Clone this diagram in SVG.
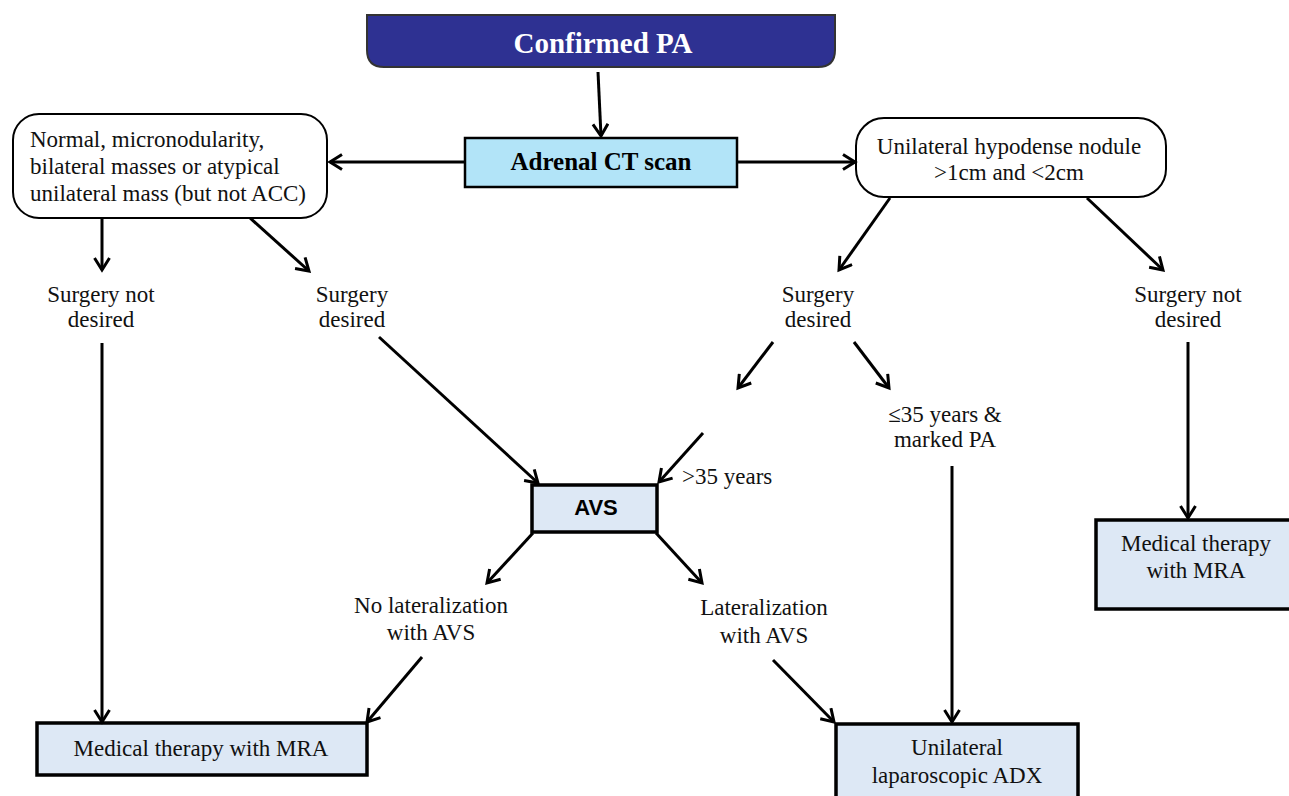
<svg xmlns="http://www.w3.org/2000/svg" width="1289" height="796" viewBox="0 0 1289 796">
<defs>
<marker id="ah" markerUnits="userSpaceOnUse" markerWidth="18" markerHeight="18" viewBox="0 0 18 18" refX="15" refY="9" orient="auto">
<path d="M3,1.5 L15,9 L3,16.5" fill="none" stroke="#000" stroke-width="3" stroke-linejoin="miter"/>
</marker>
<style>
.t{font-family:"Liberation Serif","Times New Roman",serif;font-size:23px;fill:#111;}
.c{text-anchor:middle;}
.box{fill:#dde8f5;stroke:#000;stroke-width:3.5;}
.rb{fill:#fff;stroke:#000;stroke-width:2;}
.ln{stroke:#000;stroke-width:3;fill:none;marker-end:url(#ah);}
</style>
</defs>
<rect width="1289" height="796" fill="#fff"/>

<g id="confirmed">
<path d="M367,15 H835 V50 Q835,67 818,67 H384 Q367,67 367,50 Z" fill="#2e3192" stroke="#333" stroke-width="2"/>
<text x="603" y="53" class="c" style="font-family:'Liberation Serif','Times New Roman',serif;font-size:29px;font-weight:bold;fill:#fff">Confirmed PA</text>
</g>

<g id="ct">
<rect x="465" y="138" width="272" height="49" fill="#b2e4f8" stroke="#000" stroke-width="2.5"/>
<text x="601" y="170" class="c" style="font-family:'Liberation Serif','Times New Roman',serif;font-size:25px;font-weight:bold;fill:#000">Adrenal CT scan</text>
</g>

<g id="leftbox">
<rect x="13" y="114" width="314" height="104" rx="26" class="rb"/>
<text class="t" x="30" y="147">Normal, micronodularity,</text>
<text class="t" x="30" y="174">bilateral masses or atypical</text>
<text class="t" x="30" y="201">unilateral mass (but not ACC)</text>
</g>

<g id="rightbox">
<rect x="856" y="118" width="310" height="79" rx="28" class="rb"/>
<text class="t c" x="1009" y="154">Unilateral hypodense nodule</text>
<text class="t c" x="1009" y="180">&gt;1cm and &lt;2cm</text>
</g>

<g id="l-notdesired">
<text class="t c" x="101" y="302">Surgery not</text>
<text class="t c" x="101" y="327">desired</text>
</g>
<g id="l-desired">
<text class="t c" x="352" y="302">Surgery</text>
<text class="t c" x="352" y="327">desired</text>
</g>
<g id="r-desired">
<text class="t c" x="818" y="302">Surgery</text>
<text class="t c" x="818" y="327">desired</text>
</g>
<g id="r-notdesired">
<text class="t c" x="1188" y="302">Surgery not</text>
<text class="t c" x="1188" y="327">desired</text>
</g>
<g id="young">
<text class="t c" x="945" y="422">≤35 years &amp;</text>
<text class="t c" x="945" y="447">marked PA</text>
</g>
<g id="older">
<text class="t" x="682" y="484">&gt;35 years</text>
</g>

<g id="avs">
<rect x="532" y="485" width="125" height="47" class="box"/>
<text x="596" y="515" class="c" style="font-family:'Liberation Sans',Arial,sans-serif;font-size:22px;font-weight:bold;fill:#000">AVS</text>
</g>

<g id="nolat">
<text class="t c" x="431" y="613">No lateralization</text>
<text class="t c" x="431" y="640">with AVS</text>
</g>
<g id="lat">
<text class="t c" x="764" y="615">Lateralization</text>
<text class="t c" x="764" y="643">with AVS</text>
</g>

<g id="med-left">
<rect x="37" y="723" width="330" height="52" class="box"/>
<text class="t c" x="201" y="756">Medical therapy with MRA</text>
</g>

<g id="med-right">
<rect x="1096" y="520" width="200" height="89" class="box"/>
<text class="t c" x="1196" y="551">Medical therapy</text>
<text class="t c" x="1196" y="578">with MRA</text>
</g>

<g id="adx">
<rect x="836" y="724" width="242" height="80" class="box"/>
<text class="t c" x="957" y="755">Unilateral</text>
<text class="t c" x="957" y="783">laparoscopic ADX</text>
</g>

<g id="connectors">
<line class="ln" x1="598" y1="72" x2="601" y2="136"/>
<line class="ln" x1="465" y1="162" x2="330" y2="162"/>
<line class="ln" x1="737" y1="162" x2="855" y2="162"/>
<line class="ln" x1="102" y1="218" x2="102" y2="270"/>
<line class="ln" x1="250" y1="218" x2="309" y2="271"/>
<line class="ln" x1="890" y1="198" x2="839" y2="270"/>
<line class="ln" x1="1087" y1="198" x2="1163" y2="270"/>
<line class="ln" x1="102" y1="343" x2="102" y2="722"/>
<line class="ln" x1="379" y1="337" x2="538" y2="483"/>
<line class="ln" x1="773" y1="342" x2="738" y2="388"/>
<line class="ln" x1="854" y1="342" x2="889" y2="388"/>
<line class="ln" x1="703" y1="433" x2="659" y2="482"/>
<line class="ln" x1="952" y1="466" x2="952" y2="722"/>
<line class="ln" x1="1188" y1="342" x2="1188" y2="518"/>
<line class="ln" x1="533" y1="533" x2="487" y2="583"/>
<line class="ln" x1="656" y1="533" x2="702" y2="583"/>
<line class="ln" x1="422" y1="657" x2="367" y2="722"/>
<line class="ln" x1="773" y1="660" x2="834" y2="722"/>
</g>
</svg>
